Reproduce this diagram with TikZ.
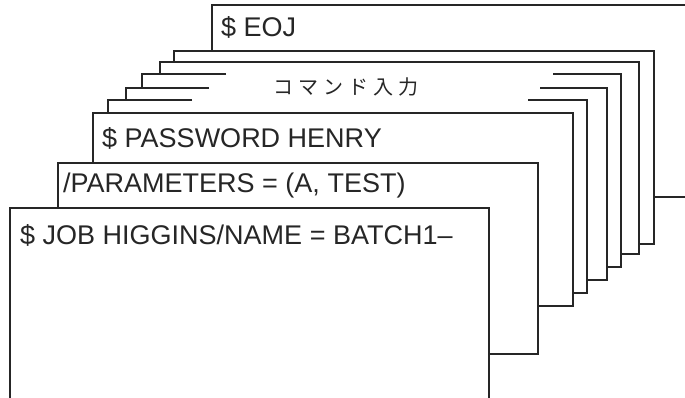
\documentclass[tikz,border=0pt]{standalone}
\usepackage{fontspec}
\setmainfont{Liberation Sans}
\newfontfamily\jpfont{Noto Sans CJK JP}
\begin{document}
\begin{tikzpicture}[x=1bp,y=-1bp,
  cardline/.style={line width=2bp, draw=black!85, line join=miter},
  cardfill/.style={fill=white},
  cardtext/.style={anchor=base west, inner sep=0pt, font=\fontsize{27bp}{30bp}\selectfont, text=black!85},
  jptext/.style={anchor=base, inner sep=0pt, font=\jpfont\fontsize{20bp}{24bp}\selectfont, text=black!85}]
\useasboundingbox (0,0) rectangle (685,397);
\clip (0,0) rectangle (685,397);
% card 1: $ EOJ
\filldraw[cardline, cardfill] (212,5) rectangle (700,197);
% card 2
\filldraw[cardline, cardfill] (174,51) rectangle (654,244);
% card 3
\filldraw[cardline, cardfill] (160,62) rectangle (639,254);
% card 4 (broken top)
\fill[cardfill] (142,74) rectangle (621,267);
\draw[cardline] (226,74) -- (142,74) -- (142,267) -- (621,267) -- (621,74) -- (553,74);
% card 5
\fill[cardfill] (126,88) rectangle (607,280);
\draw[cardline] (209,88) -- (126,88) -- (126,280) -- (607,280) -- (607,88) -- (540,88);
% card 6
\fill[cardfill] (108,100) rectangle (587,293);
\draw[cardline] (192,100) -- (108,100) -- (108,293) -- (587,293) -- (587,100) -- (528,100);
% card 7: PASSWORD
\filldraw[cardline, cardfill] (93,113) rectangle (573,306);
% card 8: PARAMETERS
\filldraw[cardline, cardfill] (58,163) rectangle (538,354);
% card 9: JOB
\filldraw[cardline, cardfill] (10,208) rectangle (489,420);
% texts
\node[cardtext] (eoj) at (221,36) {\$ EOJ};
\node[jptext] (cmd) at (346,94) {コ\kern5bp マ\kern5bp ン\kern5bp ド\kern5bp 入\kern5bp 力};
\node[cardtext] (pw) at (102,147) {\$ PASSWORD HENRY};
\node[cardtext] (par) at (63,192) {/PARAMETERS = (A, TEST)};
\node[cardtext] (job) at (20,244) {\$ JOB HIGGINS/NAME = BATCH1–};
\end{tikzpicture}
\end{document}
